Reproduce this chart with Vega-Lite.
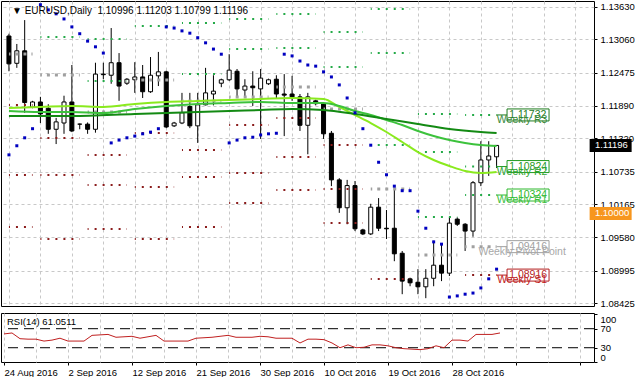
{
"$schema": "https://vega.github.io/schema/vega-lite/v6.json",
"padding": 0,
"background": "white",
"spacing": 3,
"config": {
 "view": {"stroke": "black", "strokeWidth": 1},
 "axis": {"labelFont": "Liberation Sans", "labelFontSize": 9.5, "labelColor": "black", "tickColor": "black", "domain": false, "gridColor": "#C8C8C8", "gridDash": [3,3], "gridWidth": 1, "labelOverlap": false, "labelBound": false},
 "axisY": {"labelOverlap": false},
 "axisQuantitative": {"labelOverlap": false},
 "text": {"font": "Liberation Sans"}
},
"datasets": {
 "candles": [
  {"i":0,"o":1.1312,"h":1.1316,"l":1.1250,"c":1.1263},
  {"i":1,"o":1.1264,"h":1.1298,"l":1.1256,"c":1.1286},
  {"i":2,"o":1.1286,"h":1.1340,"l":1.1177,"c":1.1195},
  {"i":3,"o":1.1187,"h":1.1198,"l":1.1185,"c":1.1196},
  {"i":4,"o":1.1196,"h":1.1205,"l":1.1159,"c":1.1175},
  {"i":5,"o":1.1185,"h":1.1192,"l":1.1140,"c":1.1148},
  {"i":6,"o":1.1148,"h":1.1168,"l":1.1122,"c":1.1161},
  {"i":7,"o":1.1159,"h":1.1207,"l":1.1140,"c":1.1196},
  {"i":8,"o":1.1196,"h":1.1261,"l":1.1143,"c":1.1145},
  {"i":9,"o":1.1157,"h":1.1158,"l":1.1148,"c":1.1157},
  {"i":10,"o":1.1157,"h":1.1160,"l":1.1140,"c":1.1148},
  {"i":11,"o":1.1148,"h":1.1265,"l":1.1142,"c":1.1245},
  {"i":12,"o":1.1245,"h":1.1265,"l":1.1236,"c":1.1244},
  {"i":13,"o":1.1243,"h":1.1326,"l":1.1228,"c":1.1265},
  {"i":14,"o":1.1265,"h":1.1282,"l":1.1198,"c":1.1224},
  {"i":15,"o":1.1229,"h":1.1238,"l":1.1226,"c":1.1236},
  {"i":16,"o":1.1235,"h":1.1266,"l":1.1212,"c":1.1240},
  {"i":17,"o":1.1240,"h":1.1261,"l":1.1203,"c":1.1214},
  {"i":18,"o":1.1214,"h":1.1275,"l":1.1212,"c":1.1243},
  {"i":19,"o":1.1242,"h":1.1284,"l":1.1224,"c":1.1249},
  {"i":20,"o":1.1249,"h":1.1251,"l":1.1150,"c":1.1152},
  {"i":21,"o":1.1154,"h":1.1161,"l":1.1152,"c":1.1159},
  {"i":22,"o":1.1159,"h":1.1212,"l":1.1157,"c":1.1177},
  {"i":23,"o":1.1188,"h":1.1212,"l":1.1150,"c":1.1154},
  {"i":24,"o":1.1154,"h":1.1212,"l":1.1124,"c":1.1191},
  {"i":25,"o":1.1191,"h":1.1256,"l":1.1190,"c":1.1212},
  {"i":26,"o":1.1210,"h":1.1243,"l":1.1190,"c":1.1215},
  {"i":27,"o":1.1229,"h":1.1237,"l":1.1222,"c":1.1235},
  {"i":28,"o":1.1235,"h":1.1280,"l":1.1233,"c":1.1252},
  {"i":29,"o":1.1250,"h":1.1254,"l":1.1205,"c":1.1219},
  {"i":30,"o":1.1217,"h":1.1236,"l":1.1203,"c":1.1224},
  {"i":31,"o":1.1224,"h":1.1250,"l":1.1189,"c":1.1221},
  {"i":32,"o":1.1219,"h":1.1254,"l":1.1131,"c":1.1238},
  {"i":33,"o":1.1228,"h":1.1237,"l":1.1226,"c":1.1235},
  {"i":34,"o":1.1236,"h":1.1243,"l":1.1203,"c":1.1210},
  {"i":35,"o":1.1210,"h":1.1245,"l":1.1136,"c":1.1208},
  {"i":36,"o":1.1210,"h":1.1242,"l":1.1198,"c":1.1205},
  {"i":37,"o":1.1205,"h":1.1210,"l":1.1145,"c":1.1155},
  {"i":38,"o":1.1155,"h":1.1212,"l":1.1104,"c":1.1205},
  {"i":39,"o":1.1198,"h":1.1200,"l":1.1190,"c":1.1193},
  {"i":40,"o":1.1193,"h":1.1194,"l":1.1131,"c":1.1140},
  {"i":41,"o":1.1141,"h":1.1145,"l":1.1048,"c":1.1059},
  {"i":42,"o":1.1059,"h":1.1062,"l":1.1001,"c":1.1010},
  {"i":43,"o":1.1010,"h":1.1059,"l":1.0981,"c":1.1049},
  {"i":44,"o":1.1049,"h":1.1057,"l":1.0969,"c":1.0973},
  {"i":45,"o":1.0971,"h":1.0973,"l":1.0962,"c":1.0964},
  {"i":46,"o":1.0964,"h":1.1017,"l":1.0962,"c":1.1011},
  {"i":47,"o":1.1011,"h":1.1027,"l":1.0969,"c":1.0974},
  {"i":48,"o":1.0974,"h":1.1006,"l":1.0955,"c":1.0973},
  {"i":49,"o":1.0974,"h":1.1045,"l":1.0916,"c":1.0929},
  {"i":50,"o":1.0930,"h":1.0934,"l":1.0858,"c":1.0881},
  {"i":51,"o":1.0885,"h":1.0887,"l":1.0872,"c":1.0878},
  {"i":52,"o":1.0879,"h":1.0902,"l":1.0858,"c":1.0871},
  {"i":53,"o":1.0871,"h":1.0902,"l":1.0851,"c":1.0886},
  {"i":54,"o":1.0886,"h":1.0952,"l":1.0872,"c":1.0909},
  {"i":55,"o":1.0909,"h":1.0948,"l":1.0881,"c":1.0895},
  {"i":56,"o":1.0895,"h":1.0994,"l":1.0890,"c":1.0983},
  {"i":57,"o":1.0990,"h":1.0993,"l":1.0978,"c":1.0981},
  {"i":58,"o":1.0981,"h":1.0983,"l":1.0934,"c":1.0969},
  {"i":59,"o":1.0969,"h":1.1057,"l":1.0959,"c":1.1054},
  {"i":60,"o":1.1054,"h":1.1127,"l":1.1048,"c":1.1094},
  {"i":61,"o":1.1094,"h":1.1127,"l":1.1066,"c":1.1101},
  {"i":62,"o":1.10996,"h":1.11203,"l":1.10799,"c":1.11196}
 ],
 "ma": [
  {"i":0,"m":"fast","v":1.11854},{"i":4,"m":"fast","v":1.11872},{"i":8,"m":"fast","v":1.11889},{"i":12,"m":"fast","v":1.11872},{"i":16,"m":"fast","v":1.11924},{"i":20,"m":"fast","v":1.11960},{"i":24,"m":"fast","v":1.11977},{"i":28,"m":"fast","v":1.11995},{"i":32,"m":"fast","v":1.12012},{"i":36,"m":"fast","v":1.12030},{"i":40,"m":"fast","v":1.12012},{"i":42,"m":"fast","v":1.11872},{"i":44,"m":"fast","v":1.11731},{"i":46,"m":"fast","v":1.11590},{"i":48,"m":"fast","v":1.11432},{"i":50,"m":"fast","v":1.11256},{"i":52,"m":"fast","v":1.11080},{"i":54,"m":"fast","v":1.10940},{"i":56,"m":"fast","v":1.10834},{"i":58,"m":"fast","v":1.10746},{"i":60,"m":"fast","v":1.10711},{"i":62,"m":"fast","v":1.10729},
  {"i":0,"m":"mid","v":1.11801},{"i":4,"m":"mid","v":1.11784},{"i":8,"m":"mid","v":1.11784},{"i":12,"m":"mid","v":1.11766},{"i":16,"m":"mid","v":1.11837},{"i":20,"m":"mid","v":1.11889},{"i":24,"m":"mid","v":1.11924},{"i":28,"m":"mid","v":1.11942},{"i":32,"m":"mid","v":1.11960},{"i":36,"m":"mid","v":1.11942},{"i":40,"m":"mid","v":1.11942},{"i":42,"m":"mid","v":1.11889},{"i":44,"m":"mid","v":1.11801},{"i":46,"m":"mid","v":1.11731},{"i":48,"m":"mid","v":1.11643},{"i":50,"m":"mid","v":1.11555},{"i":52,"m":"mid","v":1.11450},{"i":54,"m":"mid","v":1.11362},{"i":56,"m":"mid","v":1.11291},{"i":58,"m":"mid","v":1.11239},{"i":60,"m":"mid","v":1.11203},{"i":62,"m":"mid","v":1.11186},
  {"i":0,"m":"slow","v":1.11713},{"i":8,"m":"slow","v":1.11713},{"i":16,"m":"slow","v":1.11749},{"i":24,"m":"slow","v":1.11784},{"i":32,"m":"slow","v":1.11819},{"i":36,"m":"slow","v":1.11837},{"i":40,"m":"slow","v":1.11819},{"i":44,"m":"slow","v":1.11749},{"i":48,"m":"slow","v":1.11661},{"i":52,"m":"slow","v":1.11573},{"i":56,"m":"slow","v":1.11485},{"i":60,"m":"slow","v":1.11432},{"i":62,"m":"slow","v":1.11414}
 ],
 "sar": [
  {"i":0,"s":1.1103},{"i":1,"s":1.1119},{"i":2,"s":1.1133},{"i":3,"s":1.1149},{"i":4,"s":1.1367},{"i":5,"s":1.1358},{"i":6,"s":1.1351},{"i":7,"s":1.1342},{"i":8,"s":1.1328},{"i":9,"s":1.1316},{"i":10,"s":1.1303},{"i":11,"s":1.1293},{"i":12,"s":1.1282},{"i":13,"s":1.1124},{"i":14,"s":1.1129},{"i":15,"s":1.1133},{"i":16,"s":1.1136},{"i":17,"s":1.1140},{"i":18,"s":1.1143},{"i":19,"s":1.1149},{"i":20,"s":1.1328},{"i":21,"s":1.1326},{"i":22,"s":1.1321},{"i":23,"s":1.1317},{"i":24,"s":1.1309},{"i":25,"s":1.1300},{"i":26,"s":1.1289},{"i":27,"s":1.1280},{"i":28,"s":1.1124},{"i":29,"s":1.1129},{"i":30,"s":1.1133},{"i":31,"s":1.1134},{"i":32,"s":1.1138},{"i":33,"s":1.1140},{"i":34,"s":1.1141},{"i":35,"s":1.1280},{"i":36,"s":1.1277},{"i":37,"s":1.1268},{"i":38,"s":1.1261},{"i":39,"s":1.1259},{"i":40,"s":1.1249},{"i":41,"s":1.1240},{"i":42,"s":1.1226},{"i":43,"s":1.1203},{"i":44,"s":1.1177},{"i":45,"s":1.1149},{"i":46,"s":1.1120},{"i":47,"s":1.1090},{"i":48,"s":1.1068},{"i":49,"s":1.1048},{"i":50,"s":1.1040},{"i":51,"s":1.1040},{"i":52,"s":1.1004},{"i":53,"s":1.0974},{"i":54,"s":1.0950},{"i":55,"s":1.0946},{"i":56,"s":1.0853},{"i":57,"s":1.0855},{"i":58,"s":1.0858},{"i":59,"s":1.0860},{"i":60,"s":1.0869},{"i":61,"s":1.0885},{"i":62,"s":1.0902}
 ],
 "piv": [
  {"s":0,"e":3,"lvl":"PP","v":1.12804},{"s":0,"e":3,"lvl":"S1","v":1.11907},{"s":0,"e":3,"lvl":"S2","v":1.10676},{"s":0,"e":3,"lvl":"S3","v":1.09762},
  {"s":4,"e":9,"lvl":"R1","v":1.13103},{"s":4,"e":9,"lvl":"PP","v":1.12434},{"s":4,"e":9,"lvl":"S1","v":1.11326},{"s":4,"e":9,"lvl":"S2","v":1.10676},{"s":4,"e":9,"lvl":"S3","v":1.09550},
  {"s":10,"e":15,"lvl":"R2","v":1.13067},{"s":10,"e":15,"lvl":"R1","v":1.12329},{"s":10,"e":15,"lvl":"PP","v":1.11784},{"s":10,"e":15,"lvl":"S1","v":1.11028},{"s":10,"e":15,"lvl":"S2","v":1.10500},{"s":10,"e":15,"lvl":"S3","v":1.09726},
  {"s":16,"e":21,"lvl":"R1","v":1.13296},{"s":16,"e":21,"lvl":"PP","v":1.12346},{"s":16,"e":21,"lvl":"S1","v":1.11414},{"s":16,"e":21,"lvl":"S2","v":1.10465},{"s":16,"e":21,"lvl":"S3","v":1.09550},
  {"s":22,"e":27,"lvl":"R2","v":1.13349},{"s":22,"e":27,"lvl":"R1","v":1.12452},{"s":22,"e":27,"lvl":"PP","v":1.11977},{"s":22,"e":27,"lvl":"S1","v":1.11115},{"s":22,"e":27,"lvl":"S2","v":1.10641},{"s":22,"e":27,"lvl":"S3","v":1.09762},
  {"s":28,"e":33,"lvl":"R2","v":1.13419},{"s":28,"e":33,"lvl":"R1","v":1.12891},{"s":28,"e":33,"lvl":"PP","v":1.12047},{"s":28,"e":33,"lvl":"S1","v":1.11555},{"s":28,"e":33,"lvl":"S2","v":1.10711},{"s":28,"e":33,"lvl":"S3","v":1.10183},
  {"s":34,"e":39,"lvl":"R2","v":1.13507},{"s":34,"e":39,"lvl":"R1","v":1.12909},{"s":34,"e":39,"lvl":"PP","v":1.12223},{"s":34,"e":39,"lvl":"S1","v":1.11678},{"s":34,"e":39,"lvl":"S2","v":1.10992},{"s":34,"e":39,"lvl":"S3","v":1.10412},
  {"s":40,"e":45,"lvl":"R2","v":1.13190},{"s":40,"e":45,"lvl":"R1","v":1.12575},{"s":40,"e":45,"lvl":"PP","v":1.11837},{"s":40,"e":45,"lvl":"S1","v":1.11203},{"s":40,"e":45,"lvl":"S2","v":1.10430},{"s":40,"e":45,"lvl":"S3","v":1.09832},
  {"s":46,"e":51,"lvl":"R3","v":1.13595},{"s":46,"e":51,"lvl":"R2","v":1.12821},{"s":46,"e":51,"lvl":"R1","v":1.11203},{"s":46,"e":51,"lvl":"PP","v":1.10430},{"s":46,"e":51,"lvl":"S1","v":1.08847},
  {"s":52,"e":57,"lvl":"R3","v":1.11748},{"s":52,"e":57,"lvl":"R2","v":1.11080},{"s":52,"e":57,"lvl":"R1","v":1.09937},{"s":52,"e":57,"lvl":"PP","v":1.09269},
  {"s":58,"e":62,"lvl":"R3","v":1.11732},{"s":58,"e":62,"lvl":"R2","v":1.10824},{"s":58,"e":62,"lvl":"R1","v":1.10324},{"s":58,"e":62,"lvl":"PP","v":1.09416},{"s":58,"e":62,"lvl":"S1","v":1.08916}
 ],
 "lab": [
  {"lvl":"R3","v":1.11732,"name":"Weekly R3"},
  {"lvl":"R2","v":1.10824,"name":"Weekly R2"},
  {"lvl":"R1","v":1.10324,"name":"Weekly R1"},
  {"lvl":"PP","v":1.09416,"name":"Weekly Pivot Point"},
  {"lvl":"S1","v":1.08916,"name":"Weekly S1"}
 ],
 "hl": [{"v":1.11196,"k":"price"},{"v":1.1,"k":"level"}],
 "rsi": [
  {"i":0,"r":59},{"i":1,"r":61},{"i":2,"r":49},{"i":3,"r":48},{"i":4,"r":48},{"i":5,"r":44},{"i":6,"r":46},{"i":7,"r":50},{"i":8,"r":44},{"i":9,"r":44},{"i":10,"r":44},{"i":11,"r":56},{"i":12,"r":57},{"i":13,"r":58},{"i":14,"r":52},{"i":15,"r":53},{"i":16,"r":54},{"i":17,"r":50},{"i":18,"r":53},{"i":19,"r":56},{"i":20,"r":44},{"i":21,"r":44},{"i":22,"r":44},{"i":23,"r":44},{"i":24,"r":50},{"i":25,"r":51},{"i":26,"r":52},{"i":27,"r":54},{"i":28,"r":56},{"i":29,"r":52},{"i":30,"r":52},{"i":31,"r":52},{"i":32,"r":54},{"i":33,"r":53},{"i":34,"r":50},{"i":35,"r":50},{"i":36,"r":50},{"i":37,"r":40},{"i":38,"r":48},{"i":39,"r":48},{"i":40,"r":47},{"i":41,"r":40},{"i":42,"r":30},{"i":43,"r":36},{"i":44,"r":30},{"i":45,"r":31},{"i":46,"r":36},{"i":47,"r":36},{"i":48,"r":34},{"i":49,"r":30},{"i":50,"r":28},{"i":51,"r":27},{"i":52,"r":26},{"i":53,"r":28},{"i":54,"r":34},{"i":55,"r":30},{"i":56,"r":46},{"i":57,"r":46},{"i":58,"r":44},{"i":59,"r":58},{"i":60,"r":58},{"i":61,"r":58},{"i":62,"r":61.0511}
 ],
 "lv": [{"r":70},{"r":30}],
 "ttl": [{"t":"▼ EURUSD,Daily\u00a0 1.10996 1.11203 1.10799 1.11196"}],
 "rttl": [{"t":"RSI(14) 61.0511"}]
},
"vconcat": [
 {
  "width": 593, "height": 305,
  "resolve": {"scale": {"color": "independent", "stroke": "independent", "fill": "independent"}, "axis": {"x": "independent", "y": "independent"}},
  "layer": [
   {"data": {"name": "candles"}, "mark": {"type": "rule", "color": "black", "strokeWidth": 1},
    "encoding": {
     "x": {"field": "i", "type": "quantitative", "title": null, "scale": {"domain": [-0.375, 73.75], "nice": false, "zero": false},
       "axis": {"values": [0,4,8,12,16,20,24,28,32,36,40,44,48,52,56,60,64,68,72], "labels": false, "ticks": false, "grid": true}},
     "y": {"field": "l", "type": "quantitative", "title": null, "scale": {"domain": [1.083724, 1.137355], "nice": false, "zero": false},
       "axis": {"orient": "right", "values": [1.08425,1.08995,1.0958,1.10165,1.10735,1.1132,1.1189,1.12475,1.1306,1.1363], "format": ".5f", "grid": true, "tickSize": 3, "labelPadding": 3, "labelOverlap": false, "labelBound": false, "labelSeparation": 0}},
     "y2": {"field": "h"}
    }},
   {"data": {"name": "candles"}, "mark": {"type": "bar", "size": 4, "stroke": "black", "strokeWidth": 1},
    "encoding": {
     "x": {"field": "i", "type": "quantitative", "axis": null, "scale": {"domain": [-0.375, 73.75], "nice": false, "zero": false}},
     "y": {"field": "o", "type": "quantitative", "axis": null, "scale": {"domain": [1.083724, 1.137355], "nice": false, "zero": false}},
     "y2": {"field": "c"},
     "fill": {"condition": {"test": "datum.c >= datum.o", "value": "white"}, "value": "black"}
    }},
   {"data": {"name": "piv"}, "transform": [{"filter": "datum.lvl != 'PP'"}],
    "mark": {"type": "rule", "strokeWidth": 2, "strokeDash": [2, 6], "strokeDashOffset": 1, "strokeCap": "butt"},
    "encoding": {
     "x": {"field": "s", "type": "quantitative", "axis": null, "scale": {"domain": [-0.375, 73.75], "nice": false, "zero": false}},
     "x2": {"field": "e"},
     "y": {"field": "v", "type": "quantitative", "axis": null, "scale": {"domain": [1.083724, 1.137355], "nice": false, "zero": false}},
     "color": {"field": "lvl", "type": "nominal", "legend": null, "scale": {"domain": ["R3","R2","R1","S1","S2","S3"], "range": ["#24AA48","#24AA48","#24AA48","#8B1C1C","#8B1C1C","#8B1C1C"]}}
    }},
   {"data": {"name": "piv"}, "transform": [{"filter": "datum.lvl == 'PP'"}],
    "mark": {"type": "rule", "strokeWidth": 3, "strokeDash": [3, 5], "strokeDashOffset": 1.5, "strokeCap": "butt", "color": "#A0A0A0"},
    "encoding": {
     "x": {"field": "s", "type": "quantitative", "axis": null, "scale": {"domain": [-0.375, 73.75], "nice": false, "zero": false}},
     "x2": {"field": "e"},
     "y": {"field": "v", "type": "quantitative", "axis": null, "scale": {"domain": [1.083724, 1.137355], "nice": false, "zero": false}}
    }},
   {"mark": {"type": "rule", "color": "#F0A040", "strokeWidth": 1},
    "encoding": {"y": {"datum": 1.1, "type": "quantitative", "axis": null, "scale": {"domain": [1.083724, 1.137355], "nice": false, "zero": false}}}},
   {"mark": {"type": "rule", "color": "#C0C0C0", "strokeWidth": 1},
    "encoding": {"y": {"datum": 1.11196, "type": "quantitative", "axis": null, "scale": {"domain": [1.083724, 1.137355], "nice": false, "zero": false}}}},
   {"data": {"name": "ma"}, "mark": {"type": "line", "strokeWidth": 2, "interpolate": "monotone"},
    "encoding": {
     "x": {"field": "i", "type": "quantitative", "axis": null, "scale": {"domain": [-0.375, 73.75], "nice": false, "zero": false}},
     "y": {"field": "v", "type": "quantitative", "axis": null, "scale": {"domain": [1.083724, 1.137355], "nice": false, "zero": false}},
     "color": {"field": "m", "type": "nominal", "legend": null, "scale": {"domain": ["slow","mid","fast"], "range": ["#138A13","#3CC23C","#8AEA1E"]}},
     "order": {"field": "i"}
    }},
   {"data": {"name": "sar"}, "mark": {"type": "square", "size": 9, "color": "#0000C0", "opacity": 1, "filled": true},
    "encoding": {
     "x": {"field": "i", "type": "quantitative", "axis": null, "scale": {"domain": [-0.375, 73.75], "nice": false, "zero": false}},
     "y": {"field": "s", "type": "quantitative", "axis": null, "scale": {"domain": [1.083724, 1.137355], "nice": false, "zero": false}}
    }},
   {"data": {"name": "lab"}, "mark": {"type": "rule", "strokeWidth": 1},
    "encoding": {
     "x": {"datum": 62, "type": "quantitative", "axis": null, "scale": {"domain": [-0.375, 73.75], "nice": false, "zero": false}},
     "x2": {"datum": 63.4},
     "y": {"field": "v", "type": "quantitative", "axis": null, "scale": {"domain": [1.083724, 1.137355], "nice": false, "zero": false}},
     "color": {"field": "lvl", "type": "nominal", "legend": null, "scale": {"domain": ["R3","R2","R1","PP","S1"], "range": ["#1E7B1E","#1F9A1F","#2DB82D","#A0A0A0","#B41E1E"]}}
    }},
   {"data": {"name": "lab"}, "mark": {"type": "point", "shape": "M-1,-0.2857L1,-0.2857L1,0.2857L-1,0.2857Z", "size": 1764, "filled": true, "fill": "white", "strokeWidth": 1, "opacity": 1},
    "encoding": {
     "x": {"datum": 66, "type": "quantitative", "axis": null, "scale": {"domain": [-0.375, 73.75], "nice": false, "zero": false}},
     "y": {"field": "v", "type": "quantitative", "axis": null, "scale": {"domain": [1.083724, 1.137355], "nice": false, "zero": false}},
     "stroke": {"field": "lvl", "type": "nominal", "legend": null, "scale": {"domain": ["R3","R2","R1","PP","S1"], "range": ["#1E7B1E","#1F9A1F","#2DB82D","#A0A0A0","#B41E1E"]}}
    }},
   {"data": {"name": "lab"}, "mark": {"type": "text", "align": "left", "baseline": "middle", "fontSize": 10.5},
    "encoding": {
     "x": {"datum": 63.6, "type": "quantitative", "axis": null, "scale": {"domain": [-0.375, 73.75], "nice": false, "zero": false}},
     "y": {"field": "v", "type": "quantitative", "axis": null, "scale": {"domain": [1.083724, 1.137355], "nice": false, "zero": false}},
     "text": {"field": "v", "type": "quantitative", "format": ".5f"},
     "color": {"field": "lvl", "type": "nominal", "legend": null, "scale": {"domain": ["R3","R2","R1","PP","S1"], "range": ["#1E7B1E","#1F9A1F","#2DB82D","#A0A0A0","#B41E1E"]}}
    }},
   {"data": {"name": "lab"}, "mark": {"type": "text", "align": "center", "baseline": "top", "fontSize": 10.5, "dy": 0},
    "encoding": {
     "x": {"datum": 65.25, "type": "quantitative", "axis": null, "scale": {"domain": [-0.375, 73.75], "nice": false, "zero": false}},
     "y": {"field": "v", "type": "quantitative", "axis": null, "scale": {"domain": [1.083724, 1.137355], "nice": false, "zero": false}},
     "text": {"field": "name"},
     "color": {"field": "lvl", "type": "nominal", "legend": null, "scale": {"domain": ["R3","R2","R1","PP","S1"], "range": ["#3A8A3A","#2EA52E","#3CC03C","#A8A8A8","#C02020"]}}
    }},
   {"data": {"name": "hl"}, "mark": {"type": "point", "shape": "M-1,-0.3095L1,-0.3095L1,0.3095L-1,0.3095Z", "size": 1764, "filled": true, "opacity": 1, "strokeWidth": 0},
    "encoding": {
     "x": {"datum": 76.5, "type": "quantitative", "axis": null, "scale": {"domain": [-0.375, 73.75], "nice": false, "zero": false}},
     "y": {"field": "v", "type": "quantitative", "axis": null, "scale": {"domain": [1.083724, 1.137355], "nice": false, "zero": false}},
     "fill": {"condition": {"test": "datum.k == 'price'", "value": "black"}, "value": "#F7961E"}
    }},
   {"data": {"name": "hl"}, "mark": {"type": "text", "align": "left", "baseline": "middle", "fontSize": 9.5, "color": "white"},
    "encoding": {
     "x": {"datum": 74.5, "type": "quantitative", "axis": null, "scale": {"domain": [-0.375, 73.75], "nice": false, "zero": false}},
     "y": {"field": "v", "type": "quantitative", "axis": null, "scale": {"domain": [1.083724, 1.137355], "nice": false, "zero": false}},
     "text": {"field": "v", "type": "quantitative", "format": ".5f"}
    }},
   {"data": {"name": "ttl"}, "mark": {"type": "text", "align": "left", "baseline": "middle", "fontSize": 10, "color": "black", "dx": 6},
    "encoding": {
     "x": {"datum": -0.375, "type": "quantitative", "axis": null, "scale": {"domain": [-0.375, 73.75], "nice": false, "zero": false}},
     "y": {"datum": 1.1356, "type": "quantitative", "axis": null, "scale": {"domain": [1.083724, 1.137355], "nice": false, "zero": false}},
     "text": {"field": "t"}
    }}
  ]
 },
 {
  "width": 593, "height": 49,
  "resolve": {"axis": {"x": "independent", "y": "independent"}},
  "layer": [
   {"data": {"name": "lv"}, "mark": {"type": "rule", "color": "black", "strokeWidth": 1, "strokeDash": [10, 6]},
    "encoding": {
     "y": {"field": "r", "type": "quantitative", "axis": null, "scale": {"domain": [0, 103], "nice": false, "zero": false}}
    }},
   {"data": {"name": "rsi"}, "mark": {"type": "line", "color": "#C02020", "strokeWidth": 1},
    "encoding": {
     "x": {"field": "i", "type": "quantitative", "title": null, "scale": {"domain": [-0.375, 73.75], "nice": false, "zero": false},
       "axis": {"values": [0,4,8,12,16,20,24,28,32,36,40,44,48,52,56,60,64,68,72], "grid": true, "labelAlign": "left", "labelFlush": false, "labelOverlap": false, "labelBound": false, "tickSize": 3, "labelPadding": 2,
         "tickOpacity": {"condition": {"test": "datum.value % 8 == 0", "value": 1}, "value": 0},
         "labelExpr": "datum.value==0?'24 Aug 2016':datum.value==8?'2 Sep 2016':datum.value==16?'12 Sep 2016':datum.value==24?'21 Sep 2016':datum.value==32?'30 Sep 2016':datum.value==40?'10 Oct 2016':datum.value==48?'19 Oct 2016':datum.value==56?'28 Oct 2016':''"}},
     "y": {"field": "r", "type": "quantitative", "title": null, "scale": {"domain": [0, 103], "nice": false, "zero": false},
       "axis": {"orient": "right", "values": [0, 30, 70, 100], "grid": false, "tickSize": 3, "labelPadding": 3, "labelOverlap": false, "labelBound": false, "labelSeparation": 0,
         "labelBaseline": {"condition": [{"test": "datum.value == 100", "value": "top"}, {"test": "datum.value == 0", "value": "bottom"}], "value": "middle"}}}
    }},
   {"data": {"name": "rttl"}, "mark": {"type": "text", "align": "left", "baseline": "middle", "fontSize": 9.5, "color": "black", "dx": 6},
    "encoding": {
     "x": {"datum": -0.375, "type": "quantitative", "axis": null, "scale": {"domain": [-0.375, 73.75], "nice": false, "zero": false}},
     "y": {"datum": 84, "type": "quantitative", "axis": null, "scale": {"domain": [0, 103], "nice": false, "zero": false}},
     "text": {"field": "t"}
    }}
  ]
 }
]
}
